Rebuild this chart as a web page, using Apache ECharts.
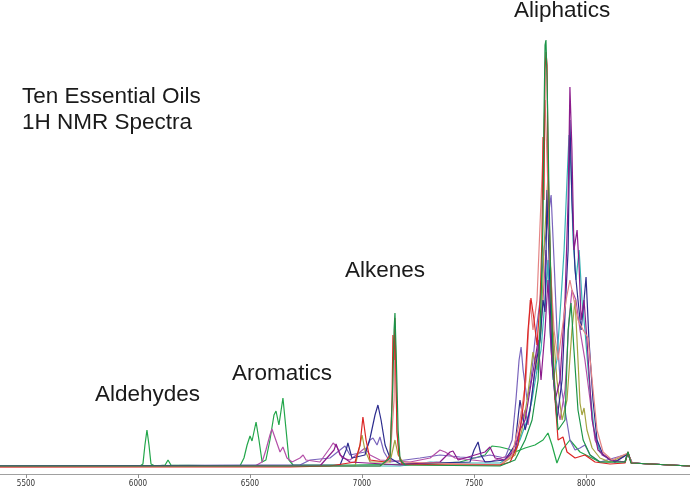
<!DOCTYPE html>
<html><head><meta charset="utf-8">
<script src="https://cdn.jsdelivr.net/npm/echarts@6/dist/echarts.min.js"></script>
<style>html,body{margin:0;padding:0;background:#fff}#c{width:690px;height:490px}</style>
</head><body><div id="c"></div>
<script>
var tickValues = [5500, 6000, 6500, 7000, 7500, 8000];
var seriesNames = ['Oil 1','Oil 2','Oil 3','Oil 4','Oil 5','Oil 6','Oil 7','Oil 8','Oil 9','Oil 10'];
var s1 = [[5384,8],[6009,8],[6022,10],[6031,29],[6040,44],[6049,29],[6058,10],[6076,8],[6121,9],[6134,14],[6147,9],[6455,8],[6473,16],[6487,29],[6500,38],[6509,33],[6527,52],[6540,34],[6554,12],[6571,14],[6589,34],[6607,59],[6616,63],[6629,49],[6647,76],[6661,44],[6674,14],[6692,9],[6946,9],[7259,10],[7437,12],[7549,19],[7580,28],[7616,27],[7652,25],[7683,22],[7728,26],[7772,29],[7808,34],[7830,41],[7848,29],[7870,11],[7893,24],[7928,34],[7973,22],[8062,12],[8174,12],[8187,22],[8201,11],[8464,8]];
var s2 = [[5384,7],[6679,7],[6857,8],[6969,12],[6991,29],[7004,57],[7018,34],[7036,14],[7103,12],[7125,19],[7134,74],[7138,139],[7143,114],[7147,156],[7152,94],[7156,42],[7165,19],[7179,10],[7393,9],[7616,9],[7661,12],[7696,29],[7723,74],[7741,144],[7754,176],[7768,154],[7781,129],[7795,174],[7803,234],[7808,337],[7812,274],[7817,404],[7821,422],[7826,409],[7830,314],[7839,224],[7848,154],[7862,74],[7875,34],[7897,37],[7915,22],[7951,16],[7995,19],[8040,12],[8107,10],[8174,11],[8187,22],[8201,11],[8464,8]];
var s3 = [[5384,8],[7080,8],[7125,16],[7138,94],[7143,144],[7147,161],[7152,124],[7161,44],[7170,14],[7192,9],[7616,8],[7683,14],[7728,34],[7759,54],[7786,94],[7799,174],[7808,254],[7812,354],[7817,429],[7821,434],[7826,394],[7830,344],[7835,274],[7844,174],[7857,94],[7875,44],[7906,54],[7920,144],[7933,171],[7946,124],[7964,64],[7987,34],[8018,19],[8062,12],[8174,12],[8187,22],[8201,11],[8464,8]];
var s4 = [[5384,8],[6812,8],[6875,24],[6884,30],[6902,19],[6946,12],[7170,9],[7348,12],[7393,22],[7406,23],[7429,14],[7549,22],[7571,27],[7594,16],[7638,14],[7683,24],[7705,44],[7728,54],[7750,84],[7772,114],[7786,134],[7799,94],[7817,144],[7830,194],[7844,124],[7862,74],[7884,94],[7906,174],[7920,274],[7928,387],[7937,324],[7946,224],[7960,244],[7969,207],[7978,154],[7991,174],[8004,134],[8027,54],[8053,24],[8107,14],[8174,12],[8187,21],[8205,11],[8464,8]];
var s5 = [[5384,8],[6902,9],[6929,24],[6937,31],[6955,16],[7013,19],[7036,36],[7058,59],[7071,69],[7085,54],[7103,29],[7125,16],[7170,10],[7482,12],[7500,24],[7518,32],[7531,19],[7549,12],[7638,14],[7683,29],[7705,74],[7728,44],[7750,64],[7772,104],[7795,134],[7808,174],[7817,162],[7826,284],[7835,214],[7848,114],[7870,54],[7893,94],[7911,184],[7920,224],[7928,354],[7937,274],[7951,204],[7964,174],[7978,144],[7991,174],[8000,197],[8013,134],[8031,74],[8049,34],[8076,19],[8129,12],[8187,20],[8205,11],[8464,8]];
var s6 = [[5384,8],[7170,8],[7304,12],[7437,11],[7616,11],[7670,19],[7705,34],[7737,54],[7759,74],[7781,104],[7799,124],[7817,174],[7830,214],[7839,144],[7853,94],[7870,114],[7888,174],[7902,224],[7915,294],[7924,339],[7933,304],[7942,234],[7955,194],[7969,224],[7982,174],[7995,144],[8013,94],[8036,44],[8062,22],[8107,14],[8174,12],[8187,21],[8205,11],[8464,8]];
var s7 = [[5384,8],[6969,8],[6991,29],[7000,39],[7013,24],[7036,12],[7125,12],[7147,34],[7161,19],[7192,9],[7616,9],[7683,19],[7714,44],[7737,74],[7763,122],[7781,104],[7799,144],[7812,224],[7830,299],[7839,224],[7853,144],[7870,94],[7893,54],[7915,74],[7937,144],[7951,174],[7964,114],[7973,71],[7982,59],[7991,66],[8004,44],[8027,26],[8062,16],[8107,12],[8187,20],[8205,11],[8464,8]];
var s8 = [[5384,8],[6723,9],[6768,14],[6857,16],[6924,28],[6946,19],[7013,22],[7036,34],[7049,36],[7067,29],[7080,37],[7098,22],[7125,12],[7259,16],[7348,19],[7437,17],[7504,16],[7571,19],[7638,16],[7670,34],[7687,74],[7701,114],[7710,127],[7719,104],[7737,74],[7754,94],[7772,134],[7795,174],[7812,224],[7844,279],[7857,214],[7870,144],[7884,94],[7906,64],[7928,34],[7951,24],[7973,26],[7995,29],[8018,19],[8062,12],[8187,20],[8205,11],[8464,8]];
var s9 = [[5384,7],[7080,8],[7125,14],[7143,74],[7147,144],[7156,42],[7170,12],[7616,9],[7670,19],[7705,54],[7732,94],[7750,174],[7763,144],[7781,174],[7799,274],[7817,374],[7826,314],[7839,214],[7857,144],[7875,114],[7893,144],[7911,174],[7928,194],[7946,174],[7964,154],[7987,144],[8009,136],[8027,94],[8049,44],[8076,22],[8116,14],[8187,21],[8205,11],[8464,8]];
var s10 = [[5384,8],[6522,8],[6554,12],[6571,24],[6589,39],[6598,45],[6612,36],[6634,22],[6647,27],[6665,16],[6688,12],[6723,16],[6737,19],[6750,14],[6812,12],[6857,26],[6871,31],[6888,27],[6911,16],[6946,14],[6991,22],[7013,26],[7036,19],[7080,14],[7214,12],[7304,16],[7348,24],[7371,22],[7415,16],[7571,12],[7661,19],[7692,34],[7714,54],[7728,64],[7741,49],[7759,79],[7777,114],[7795,144],[7808,174],[7821,224],[7835,184],[7848,124],[7866,74],[7884,54],[7906,84],[7924,154],[7937,184],[7955,174],[7973,144],[7995,114],[8018,74],[8040,34],[8071,19],[8129,12],[8187,20],[8205,11],[8464,8]];

var allData = [s1, s8, s10, s7, s6, s5, s4, s9, s2, s3];
var colors = ['#22a64a', '#7a64bc', '#b450a8', '#a4a440', '#36b4b4', '#2c2c8e', '#8c1c8c', '#e48484', '#dc2424', '#1c9448'];

var chart = echarts.init(document.getElementById('c'), null, {renderer: 'canvas'});
var series = allData.map(function (d, i) {
  return {
    name: seriesNames[i], type: 'line', data: d, showSymbol: false, symbol: 'none',
    lineStyle: {width: 1.2, color: colors[i]}, itemStyle: {color: colors[i]}, animation: false
  };
});
var textStyle = {fill: '#1a1a1a', fontSize: 22.5, fontFamily: 'Liberation Sans, Arial, sans-serif', textVerticalAlign: 'middle'};
function label(t, x, y) {
  return {type: 'text', left: x, top: y - 11, style: Object.assign({text: t}, textStyle), z: 100};
}
chart.setOption({
  animation: false,
  backgroundColor: '#ffffff',
  grid: {left: 0, right: 0, top: 24, bottom: 16, containLabel: false},
  xAxis: {
    type: 'value', min: 5384, max: 8464,
    axisLine: {show: true, lineStyle: {color: '#a0a0a0', width: 1}},
    axisTick: {show: true, customValues: tickValues, length: 4, lineStyle: {color: '#909090'}},
    axisLabel: {customValues: tickValues, fontSize: 8, color: '#333', margin: 6,
      fontFamily: 'Liberation Sans Narrow, DejaVu Sans Condensed, sans-serif',
      formatter: function (v) { return String(v); }},
    splitLine: {show: false}
  },
  yAxis: {type: 'value', min: 0, max: 450, show: false, splitLine: {show: false}},
  series: series,
  graphic: [
    label('Ten Essential Oils', 22, 96),
    label('1H NMR Spectra', 22, 122),
    label('Aliphatics', 514, 10),
    label('Alkenes', 345, 270),
    label('Aromatics', 232, 373),
    label('Aldehydes', 95, 394)
  ]
});
</script></body></html>
